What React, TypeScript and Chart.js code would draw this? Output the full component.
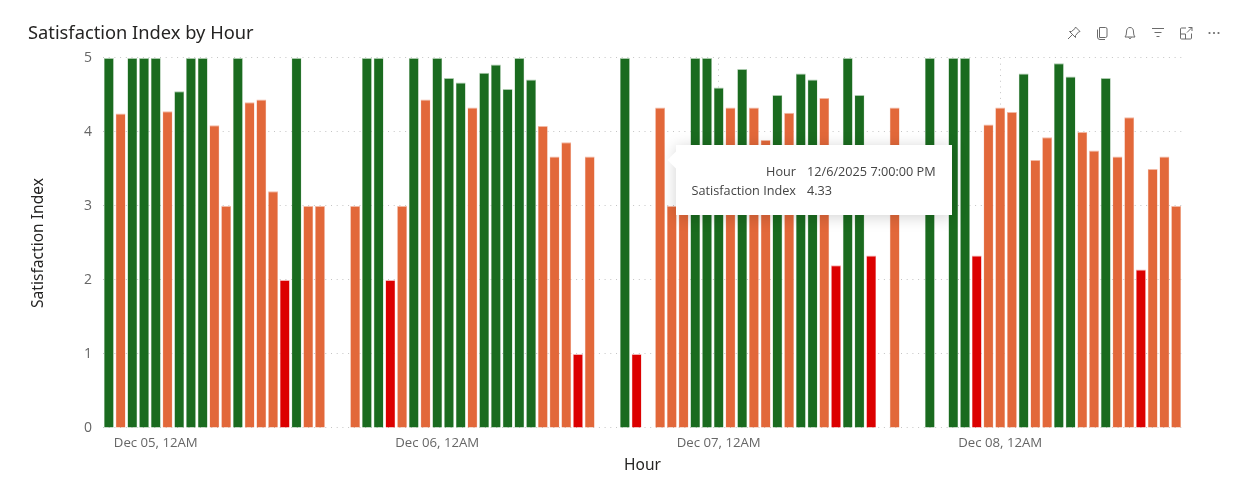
import React, { useEffect, useRef } from "react";
import { Chart, registerables } from "chart.js";

Chart.register(...registerables);

const dayLabels = ["Dec 04", "Dec 05", "Dec 06", "Dec 07", "Dec 08"];
const firstHour = 20;
const tickLabels: Record<number, string> = {
  4: "Dec 05, 12AM",
  28: "Dec 06, 12AM",
  52: "Dec 07, 12AM",
  76: "Dec 08, 12AM",
};
const satisfaction: (number | null)[] = [
  5, 4.25, 5, 5, 5, 4.28, 4.55, 5, 5, 4.09, 3, 5, 4.4, 4.44, 3.2, 2, 5, 3, 3, null, null, 3, 5, 5, 2, 3, 5, 4.44,
  5, 4.73, 4.67, 4.33, 4.8, 4.91, 4.58, 5, 4.71, 4.08, 3.67, 3.86, 1, 3.67, null, null, 5, 1, null, 4.33, 3, 3,
  5, 5, 4.6, 4.33, 4.85, 4.33, 3.89, 4.5, 4.26, 4.79, 4.71, 4.46, 2.2, 5, 4.5, 2.33, null, 4.33, null, null, 5, null,
  5, 5, 2.33, 4.1, 4.33, 4.27, 4.79, 3.62, 3.93, 4.93, 4.75, 4, 3.75, 4.73, 3.67, 4.2, 2.14, 3.5, 3.67, 3,
];
const tooltipRows = [
  ["Hour", "12/6/2025 7:00:00 PM"],
  ["Satisfaction Index", "4.33"],
];

const hourLabel = (i: number) => {
  const total = firstHour + i;
  const h = total % 24;
  const ampm = h < 12 ? "AM" : "PM";
  return `${dayLabels[Math.floor(total / 24)]}, ${h % 12 === 0 ? 12 : h % 12}${ampm}`;
};
const categories = satisfaction.map((_, i) => hourLabel(i));

const GREEN = "#1A6B1F";
const ORANGE = "#E2683A";
const RED = "#DC0000";
const GREEN_EDGE = "#A9C9AB";
const ORANGE_EDGE = "#F2B8A3";
const RED_EDGE = "#F4B0B0";
const GRID = "#C4C4C4";
const DASH = [1, 4.7];
const band = (v: number, a: string, b: string, c: string) => (v >= 4.5 ? a : v >= 3 ? b : c);

const UI_FONT = "'Open Sans', sans-serif";
const TITLE_FONT = "'Noto Sans', sans-serif";

const iconStyle: React.CSSProperties = { position: "absolute", top: 25, width: 16, height: 16 };
const stroke = { fill: "none", stroke: "#6b6b6b", strokeWidth: 1 };

export default function App() {
  const ref = useRef<HTMLCanvasElement>(null);
  useEffect(() => {
    const chart = new Chart(ref.current!, {
      type: "bar",
      data: {
        labels: categories,
        datasets: [
          {
            label: "Satisfaction Index",
            data: satisfaction,
            backgroundColor: (c: any) => band(c.raw ?? 0, GREEN, ORANGE, RED),
            borderColor: (c: any) => band(c.raw ?? 0, GREEN_EDGE, ORANGE_EDGE, RED_EDGE),
            borderWidth: { top: 1, left: 0.5, right: 0.5, bottom: 0 },
            categoryPercentage: 1,
            barPercentage: 0.84,
          },
        ],
      },
      options: {
        responsive: false,
        animation: false,
        events: [],
        layout: { padding: { top: 0, left: 28, right: 60, bottom: 0 } },
        plugins: {
          legend: { display: false },
          tooltip: { enabled: false },
          title: {
            display: true,
            text: "Satisfaction Index by Hour",
            align: "start",
            color: "#252423",
            font: { family: TITLE_FONT, size: 18.3, weight: "normal" },
            padding: { top: 23, bottom: 13 },
          },
        },
        scales: {
          x: {
            type: "category",
            offset: true,
            grid: {
              offset: false,
              drawTicks: false,
              color: (c: any) => (tickLabels[c.index] ? GRID : "rgba(0,0,0,0)"),
            } as any,
            border: { display: false, dash: DASH },
            ticks: {
              autoSkip: false,
              maxRotation: 0,
              padding: 7,
              color: "#666666",
              font: { family: UI_FONT, size: 13.2 },
              callback: (_: any, i: number) => tickLabels[i] ?? "",
            },
            title: {
              display: true,
              text: "Hour",
              color: "#252423",
              font: { family: TITLE_FONT, size: 15.5 },
              padding: { top: 3, bottom: 14 },
            },
            afterFit: (s: any) => {
              s.height = 61;
            },
          },
          y: {
            min: 0,
            max: 5,
            grid: { drawTicks: false, color: GRID },
            border: { display: false, dash: DASH },
            ticks: {
              stepSize: 1,
              padding: 11,
              color: "#666666",
              font: { family: UI_FONT, size: 14 },
            },
            title: {
              display: true,
              text: "Satisfaction Index",
              color: "#252423",
              font: { family: TITLE_FONT, size: 15.6 },
              padding: { top: 1, bottom: 0 },
            },
            afterFit: (s: any) => {
              s.width = 75;
            },
          },
        },
      },
    });
    return () => chart.destroy();
  }, []);

  return (
    <div style={{ position: "fixed", left: 0, top: 0, width: 1242, height: 489, background: "#fff", overflow: "hidden" }}>
      <canvas ref={ref} width={1242} height={489} style={{ position: "absolute", left: 0, top: 0 }} />
      <div
        style={{
          position: "absolute",
          left: 676,
          top: 145,
          width: 276,
          height: 70,
          background: "#fff",
          boxShadow: "0 2px 14px rgba(0,0,0,0.18)",
          fontFamily: UI_FONT,
          fontSize: 12.7,
          color: "#444",
        }}
      >
        <div
          style={{
            position: "absolute",
            left: -6,
            top: 9,
            width: 12,
            height: 12,
            background: "#fff",
            transform: "rotate(45deg)",
          }}
        />
        {tooltipRows.map((r, i) => (
          <div key={r[0]} style={{ position: "absolute", top: 17 + i * 19, left: 0, height: 19, lineHeight: "19px", whiteSpace: "nowrap" }}>
            <span style={{ position: "absolute", right: -120, whiteSpace: "nowrap" }}>{r[0]}</span>
            <span style={{ position: "absolute", left: 131, whiteSpace: "nowrap" }}>{r[1]}</span>
          </div>
        ))}
      </div>
      <svg style={{ ...iconStyle, left: 1066 }} viewBox="0 0 16 16">
        <path d="M9.5 2 L14 6.5 L12.5 7 L9.5 10.5 L9.5 12.5 L3.5 6.5 L5.5 6.5 L9 3.5 Z M6 10 L2 14" {...stroke} />
      </svg>
      <svg style={{ ...iconStyle, left: 1094 }} viewBox="0 0 16 16">
        <path d="M5.5 2.5 H11.5 Q13 2.5 13 4 V11 Q13 12.5 11.5 12.5 H5.5 Z M3.5 4.5 V12 Q3.5 14.5 6 14.5 H11" {...stroke} />
      </svg>
      <svg style={{ ...iconStyle, left: 1122 }} viewBox="0 0 16 16">
        <path d="M3 12 Q4.5 10.5 4.5 7 Q4.5 2.5 8 2.5 Q11.5 2.5 11.5 7 Q11.5 10.5 13 12 Z M6.5 12.5 Q8 15 9.5 12.5" {...stroke} />
      </svg>
      <svg style={{ ...iconStyle, left: 1150 }} viewBox="0 0 16 16">
        <path d="M2 3.5 H14 M4.5 7.5 H11.5 M6.5 11.5 H9.5" {...stroke} />
      </svg>
      <svg style={{ ...iconStyle, left: 1178 }} viewBox="0 0 16 16">
        <path d="M8 3 H3.5 Q2.5 3 2.5 4 V13 Q2.5 14 3.5 14 H12.5 Q13.5 14 13.5 13 V8.5 M2.5 9 H7.5 V14 M9 7.5 L14 2.5 M10.5 2.5 H14 V6" {...stroke} />
      </svg>
      <svg style={{ ...iconStyle, left: 1206 }} viewBox="0 0 16 16">
        <circle cx="3.5" cy="8" r="1.1" fill="#6b6b6b" />
        <circle cx="8" cy="8" r="1.1" fill="#6b6b6b" />
        <circle cx="12.5" cy="8" r="1.1" fill="#6b6b6b" />
      </svg>
    </div>
  );
}
